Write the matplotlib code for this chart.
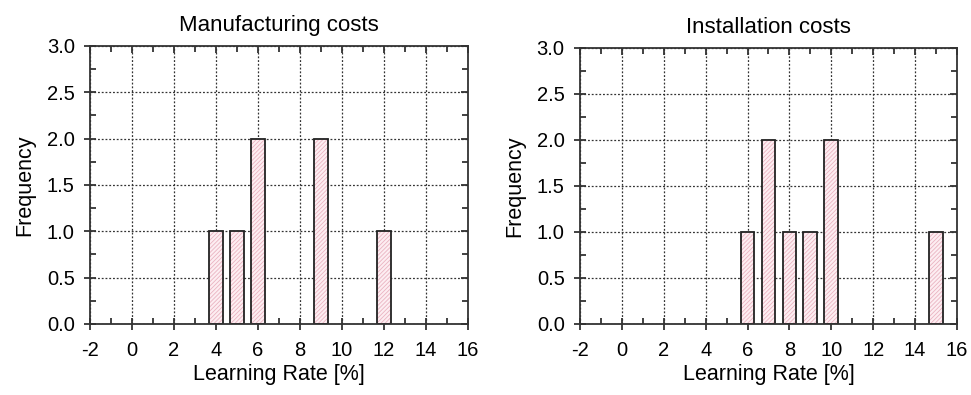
import matplotlib
matplotlib.use("Agg")
import matplotlib.pyplot as plt
from matplotlib.ticker import MultipleLocator

plt.rcParams['font.family'] = ['Liberation Sans', 'DejaVu Sans']
plt.rcParams['axes.unicode_minus'] = False
plt.rcParams['hatch.linewidth'] = 0.6

manuf_rates = [4, 5, 6, 9, 12]
manuf_freq = [1, 1, 2, 2, 1]
inst_rates = [6, 7, 8, 9, 10, 15]
inst_freq = [1, 2, 1, 1, 2, 1]
titles = ["Manufacturing costs", "Installation costs"]
xlabel = "Learning Rate [%]"
ylabel = "Frequency"

fig = plt.figure(figsize=(9.71, 3.95), dpi=100)
ax1 = fig.add_axes([0.0927, 0.18, 0.3893, 0.704])
ax2 = fig.add_axes([0.5973, 0.18, 0.3883, 0.699])

for ax, rates, freq, title in [(ax1, manuf_rates, manuf_freq, titles[0]),
                               (ax2, inst_rates, inst_freq, titles[1])]:
    # hatched pink fill
    ax.bar(rates, freq, width=0.66, color='#fdeef2', edgecolor='#eab3c1',
           linewidth=0, hatch='////////', zorder=3)
    # black outline
    ax.bar(rates, freq, width=0.66, fill=False, edgecolor='#222222',
           linewidth=1.3, zorder=4.5)
    ax.set_xlim(-2, 16)
    ax.set_ylim(0, 3)
    ax.xaxis.set_major_locator(MultipleLocator(2))
    ax.xaxis.set_minor_locator(MultipleLocator(1))
    ax.yaxis.set_minor_locator(MultipleLocator(0.25))
    ax.set_yticks([0, 0.5, 1, 1.5, 2, 2.5, 3])
    ax.set_yticklabels(["0.0", "0.5", "1.0", "1.5", "2.0", "2.5", "3.0"])
    ax.grid(True, which='major', linestyle=(0, (1.5, 1.5)), color='#333333',
            linewidth=0.9, zorder=4)
    ax.set_axisbelow(False)
    for s in ax.spines.values():
        s.set_linewidth(1.3)
        s.set_color('#333333')
        s.set_zorder(5)
    ax.tick_params(which='major', direction='inout', length=8, width=1.3,
                   labelsize=14.5, colors='#333333', labelcolor='black')
    ax.tick_params(axis='x', which='major', pad=8)
    ax.tick_params(axis='y', which='major', pad=7)
    ax.tick_params(which='minor', direction='in', length=4, width=1.3, colors='#333333')
    ax.tick_params(top=False, right=False, which='both')
    secx = ax.secondary_xaxis('top')
    secx.xaxis.set_major_locator(MultipleLocator(2))
    secx.xaxis.set_minor_locator(MultipleLocator(1))
    secx.tick_params(which='major', direction='in', length=5, width=1.3, labeltop=False, colors='#333333')
    secx.tick_params(which='minor', direction='in', length=4, width=1.3, colors='#333333')
    secy = ax.secondary_yaxis('right')
    secy.yaxis.set_major_locator(MultipleLocator(0.5))
    secy.yaxis.set_minor_locator(MultipleLocator(0.25))
    secy.tick_params(which='major', direction='in', length=5, width=1.3, labelright=False, colors='#333333')
    secy.tick_params(which='minor', direction='in', length=4, width=1.3, colors='#333333')
    for sa in (secx, secy):
        for s in sa.spines.values():
            s.set_visible(False)
    ax.set_title(title, fontsize=16, pad=11)
    ax.set_xlabel(xlabel, fontsize=15.5, labelpad=3)
    ax.set_ylabel(ylabel, fontsize=15.5, labelpad=8)

fig.savefig("out.png", dpi=100)
